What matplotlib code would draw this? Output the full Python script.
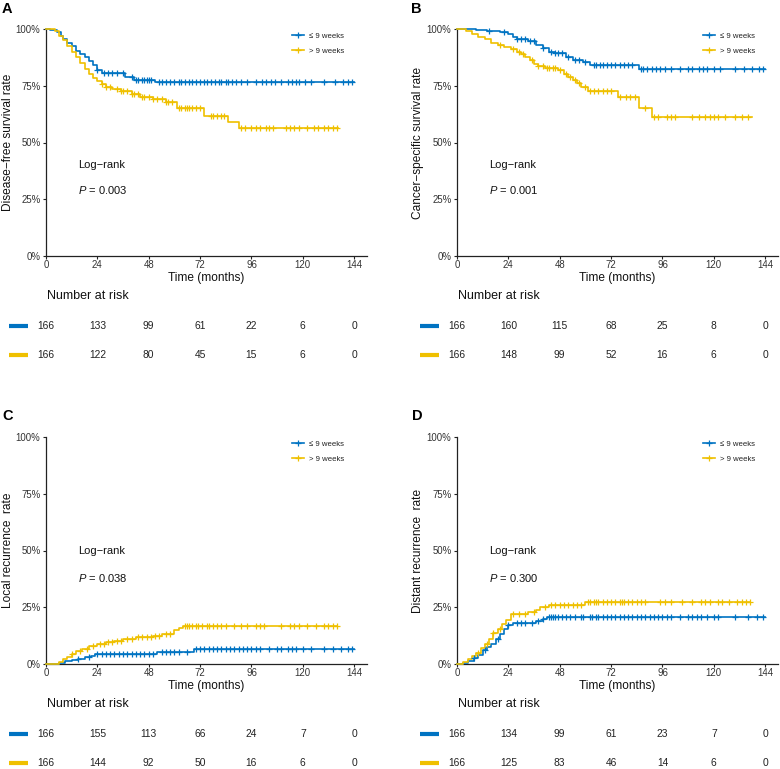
import numpy as np
import matplotlib
matplotlib.use('Agg')
import matplotlib.pyplot as plt
from matplotlib.lines import Line2D

plt.rcParams['font.family'] = ['Liberation Sans', 'DejaVu Sans']
plt.rcParams['mathtext.fontset'] = 'custom'
plt.rcParams['mathtext.it'] = 'Liberation Sans:italic'
plt.rcParams['mathtext.rm'] = 'Liberation Sans'

BLUE = '#0073C2'
YELLOW = '#EFC000'

# ---------------- data ----------------
group_labels = ['\u2264 9 weeks', '> 9 weeks']
time_ticks = [0, 24, 48, 72, 96, 120, 144]
y_ticks = [0, 0.25, 0.5, 0.75, 1.0]
y_ticklabels = ['0%', '25%', '50%', '75%', '100%']

# Panel A: disease-free survival
a_blue_t = [2, 5, 7, 8, 10, 12, 14, 16, 18, 20, 22, 24, 26, 37, 41, 51]
a_blue_v = [.994, .985, .97, .955, .94, .925, .905, .89, .875, .86, .84, .82, .805, .787, .775, .767]
a_blue_end = 144
a_blue_cens = [24, 27, 29, 31, 33, 36, 40, 42, 43, 45, 46, 47, 48, 49, 53, 54, 56, 58, 60, 62, 63,
               65, 67, 68, 70, 72, 74, 75, 77, 79, 81, 82, 84, 85, 87, 89, 91, 94, 98, 101, 103,
               105, 107, 110, 113, 115, 117, 118, 121, 124, 130, 135, 139, 141, 143]
a_yel_t = [4, 6, 8, 10, 12, 14, 16, 18, 20, 22, 24, 26, 28, 31, 35, 40, 44, 50, 56, 61, 74, 85, 90]
a_yel_v = [.99, .97, .95, .925, .9, .875, .85, .825, .8, .785, .77, .757, .745, .735, .725, .713,
           .702, .69, .678, .65, .618, .592, .562]
a_yel_end = 136.5
a_yel_cens = [26, 28, 30, 33, 35, 36, 38, 40, 41, 43, 45, 46, 48, 50, 52, 54, 56, 57, 59, 62, 63,
              65, 66, 67, 68, 70, 72, 77, 78, 80, 82, 83, 91, 93, 96, 98, 100, 103, 104, 106, 112,
              114, 116, 118, 122, 125, 127, 130, 132, 134, 136]
a_risk_blue = [166, 133, 99, 61, 22, 6, 0]
a_risk_yel = [166, 122, 80, 45, 15, 6, 0]

# Panel B: cancer-specific survival
b_blue_t = [9, 14, 20, 24, 26, 28, 33, 37, 40, 43, 46, 51, 54, 59, 62, 85]
b_blue_v = [.996, .99, .985, .98, .965, .955, .948, .93, .915, .9, .893, .875, .865, .856, .841, .822]
b_blue_end = 144
b_blue_cens = [15, 22, 28, 30, 32, 34, 36, 40, 44, 46, 47, 49, 52, 55, 57, 60, 64, 65, 67, 68, 70,
               72, 74, 76, 78, 80, 82, 86, 87, 89, 91, 93, 95, 97, 100, 104, 108, 110, 113, 115,
               117, 120, 123, 130, 134, 138, 141, 143]
b_yel_t = [4, 7, 10, 13, 16, 19, 22, 25, 28, 30, 32, 34, 36, 38, 41, 47, 50, 52, 54, 56, 58, 61,
           75, 85, 91]
b_yel_v = [.99, .98, .965, .955, .94, .93, .92, .912, .9, .89, .875, .862, .848, .835, .826, .819,
           .8, .787, .775, .76, .745, .728, .699, .651, .614]
b_yel_end = 138
b_yel_cens = [20, 26, 29, 31, 35, 38, 40, 42, 43, 45, 46, 48, 51, 53, 55, 57, 60, 62, 64, 66, 68,
              70, 72, 76, 79, 81, 83, 88, 92, 94, 98, 100, 102, 110, 113, 116, 118, 120, 122, 125,
              130, 133, 136]
b_risk_blue = [166, 160, 115, 68, 25, 8, 0]
b_risk_yel = [166, 148, 99, 52, 16, 6, 0]

# Panel C: local recurrence (cumulative)
c_blue_t = [6, 9, 12, 15, 18, 21, 23, 52, 69]
c_blue_v = [.006, .012, .018, .024, .03, .036, .042, .055, .066]
c_blue_end = 144
c_blue_cens = [15, 20, 24, 26, 28, 30, 32, 34, 36, 38, 40, 42, 44, 46, 48, 50, 54, 56, 58, 60, 62,
               66, 70, 72, 74, 76, 78, 80, 82, 84, 86, 88, 90, 92, 94, 96, 98, 100, 104, 108,
               110, 113, 115, 117, 120, 124, 130, 134, 138, 141, 143]
c_yel_t = [6, 8, 10, 12, 14, 17, 20, 24, 28, 32, 36, 42, 50, 54, 60, 62, 64]
c_yel_v = [.008, .02, .032, .045, .057, .066, .078, .088, .097, .103, .11, .118, .124, .132,
           .148, .158, .167]
c_yel_end = 136
c_yel_cens = [12, 16, 19, 22, 25, 27, 29, 31, 33, 35, 38, 40, 43, 45, 47, 49, 51, 53, 56, 58, 65,
              66, 67, 68, 70, 71, 73, 75, 76, 78, 80, 82, 84, 88, 91, 94, 98, 100, 102, 110, 114,
              116, 118, 122, 126, 130, 132, 134, 136]
c_risk_blue = [166, 155, 113, 66, 24, 7, 0]
c_risk_yel = [166, 144, 92, 50, 16, 6, 0]

# Panel D: distant recurrence (cumulative)
d_blue_t = [3, 5, 8, 10, 12, 14, 16, 18, 20, 22, 24, 26, 37, 40, 42]
d_blue_v = [.006, .012, .025, .04, .06, .075, .09, .11, .13, .155, .17, .18, .19, .2, .206]
d_blue_end = 144
d_blue_cens = [8, 13, 19, 24, 28, 30, 32, 35, 38, 40, 43, 44, 45, 46, 47, 49, 51, 53, 55, 58, 59,
               62, 63, 65, 66, 68, 70, 72, 74, 76, 78, 80, 82, 84, 86, 88, 90, 92, 94, 96, 98,
               100, 104, 108, 110, 112, 114, 117, 120, 122, 130, 136, 140, 143]
d_yel_t = [3, 5, 7, 9, 11, 13, 15, 17, 19, 21, 23, 25, 33, 37, 39, 43, 60]
d_yel_v = [.01, .02, .035, .05, .07, .09, .11, .135, .155, .175, .195, .222, .228, .238, .25, .26,
           .272]
d_yel_end = 137
d_yel_cens = [10, 14, 17, 20, 26, 29, 32, 36, 41, 44, 46, 48, 50, 52, 54, 56, 58, 61, 62, 64, 65,
              66, 68, 70, 72, 74, 76, 77, 78, 80, 82, 84, 86, 88, 95, 97, 100, 105, 110, 114,
              116, 118, 122, 124, 127, 131, 133, 135, 137]
d_risk_blue = [166, 134, 99, 61, 23, 7, 0]
d_risk_yel = [166, 125, 83, 46, 14, 6, 0]

panels = [
    dict(letter='A', ylabel='Disease\u2212free survival rate', p='0.003', start=1.0,
         blue=(a_blue_t, a_blue_v, a_blue_end, a_blue_cens),
         yel=(a_yel_t, a_yel_v, a_yel_end, a_yel_cens),
         risk=(a_risk_blue, a_risk_yel)),
    dict(letter='B', ylabel='Cancer\u2212specific survival rate', p='0.001', start=1.0,
         blue=(b_blue_t, b_blue_v, b_blue_end, b_blue_cens),
         yel=(b_yel_t, b_yel_v, b_yel_end, b_yel_cens),
         risk=(b_risk_blue, b_risk_yel)),
    dict(letter='C', ylabel='Local recurrence  rate', p='0.038', start=0.0,
         blue=(c_blue_t, c_blue_v, c_blue_end, c_blue_cens),
         yel=(c_yel_t, c_yel_v, c_yel_end, c_yel_cens),
         risk=(c_risk_blue, c_risk_yel)),
    dict(letter='D', ylabel='Distant recurrence  rate', p='0.300', start=0.0,
         blue=(d_blue_t, d_blue_v, d_blue_end, d_blue_cens),
         yel=(d_yel_t, d_yel_v, d_yel_end, d_yel_cens),
         risk=(d_risk_blue, d_risk_yel)),
]

# ---------------- layout (pixels) ----------------
W, H = 780, 769
fig = plt.figure(figsize=(W / 100, H / 100), dpi=100)

# left, right, top, bottom of plotting area
boxes = [(46, 367, 29, 256), (457, 778, 29, 256), (46, 367, 437, 664), (457, 778, 437, 664)]
ylabel_x = [8, 418, 8, 418]
letter_pos = [(2, 2), (411, 2), (2, 409), (412, 409)]
text_y = [(0.40, 0.29), (0.40, 0.29), (0.50, 0.38), (0.50, 0.38)]
XMAX = 150
AXC = '#222222'
TXC = '#333333'


def px_axes(left, right, top, bottom):
    return fig.add_axes([left / W, 1 - bottom / H, (right - left) / W, (bottom - top) / H])


def step_xy(start, t, v, end):
    x = [0] + list(t) + [end]
    y = [start] + list(v) + [v[-1]]
    return np.array(x, float), np.array(y, float)


def value_at(x, y, times):
    idx = np.searchsorted(x, times, side='right') - 1
    return y[np.clip(idx, 0, len(y) - 1)]


for i, pnl in enumerate(panels):
    l, r, t, b = boxes[i]
    ax = px_axes(l, r, t, b)
    ax.set_xlim(0, XMAX)
    ax.set_ylim(0, 1)
    for key, col in (('blue', BLUE), ('yel', YELLOW)):
        tt, vv, end, cens = pnl[key]
        x, y = step_xy(pnl['start'], tt, vv, end)
        ax.step(x, y, where='post', color=col, lw=1.2, clip_on=False, zorder=3)
        cy = value_at(x, y, np.array(cens, float))
        ax.plot(cens, cy, ls='none', marker='+', ms=4.5, mew=0.9, color=col,
                clip_on=False, zorder=4)
    for s in ('top', 'right'):
        ax.spines[s].set_visible(False)
    for s in ('left', 'bottom'):
        ax.spines[s].set_color(AXC)
        ax.spines[s].set_linewidth(0.9)
    ax.set_xticks(time_ticks)
    ax.set_yticks(y_ticks)
    ax.set_yticklabels(y_ticklabels)
    ax.tick_params(axis='both', length=2.5, width=0.8, color=AXC, labelsize=6.9,
                   labelcolor=TXC, pad=1.5)
    ax.tick_params(axis='x', pad=0.6)
    ax.text(0.5, -22 / 227, 'Time (months)', transform=ax.transAxes, ha='center',
            va='center', fontsize=8.6, color='#111111')
    ax.text((ylabel_x[i] - l) / (r - l), 0.5, pnl['ylabel'], transform=ax.transAxes,
            rotation=90, ha='center', va='center', fontsize=8.6, color='#111111')
    ty1, ty2 = text_y[i]
    ax.text(14.8, ty1, 'Log\u2212rank', ha='left', va='center', fontsize=8, color='#111111')
    ax.text(14.8, ty2, '$P$ = ' + pnl['p'], ha='left', va='center', fontsize=8,
            color='#111111')
    handles = [Line2D([], [], color=BLUE, lw=1.2, marker='+', ms=4.5, mew=0.9),
               Line2D([], [], color=YELLOW, lw=1.2, marker='+', ms=4.5, mew=0.9)]
    ax.legend(handles, group_labels, loc='upper left', bbox_to_anchor=(0.765, 1 - 3.5 / 227),
              frameon=False, fontsize=5.6, handlelength=1.6, handletextpad=0.6,
              labelspacing=0.95, borderpad=0, borderaxespad=0, labelcolor='#222222')
    lx, ly = letter_pos[i]
    fig.text(lx / W, 1 - ly / H, pnl['letter'], ha='left', va='top', fontsize=10.5,
             fontweight='bold', color='black')

    # risk table
    tax = px_axes(l, r, b + 30, b + 109)
    tax.set_xlim(0, XMAX)
    tax.set_ylim(109, 30)
    tax.axis('off')
    tax.text(0.3, 40, 'Number at risk', ha='left', va='center', fontsize=9, color='#111111')
    for row_y, col, vals in ((70, BLUE, pnl['risk'][0]), (99, YELLOW, pnl['risk'][1])):
        tax.plot([-17.5, -8.6], [row_y, row_y], color=col, lw=3, clip_on=False,
                 solid_capstyle='butt')
        for tk, vl in zip(time_ticks, vals):
            tax.text(tk, row_y, str(vl), ha='center', va='center', fontsize=7.4,
                     color='#222222')

fig.savefig('out.png', dpi=100)
